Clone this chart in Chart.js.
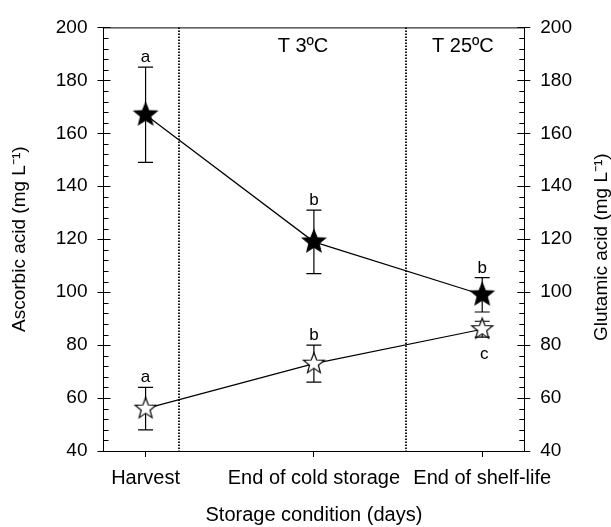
<!DOCTYPE html>
<html>
<head>
<meta charset="utf-8">
<script src="https://cdn.jsdelivr.net/npm/chart.js@4"></script>
<style>
  html, body { margin: 0; padding: 0; background: #fff; }
  #wrap { width: 611px; height: 527px; }
</style>
</head>
<body>
<div id="wrap"><canvas id="myChart"></canvas></div>
<script>
// values
const categories = ['Harvest', 'End of cold storage', 'End of shelf-life'];
const ascorbic = [167, 119, 99];
const ascorbicErr = [18, 12, 6.5];
const ascorbicLetters = ['a', 'b', 'b'];
const glutamic = [56, 73, 86];
const glutamicErr = [8, 7, 3];
const glutamicLetters = ['a', 'b', 'c'];
const dividers = [0.2, 1.55];
const periods = ['T 3ºC', 'T 25ºC'];
const periodX = [0.935, 1.885];
const yTicks = [40, 60, 80, 100, 120, 140, 160, 180, 200];

const FONT = 'Liberation Sans, Arial, sans-serif';

function makeStar(R, ratio, fill) {
    const c = document.createElement('canvas');
    const s = 2 * Math.ceil(R) + 4;
    c.width = s; c.height = s;
    const g = c.getContext('2d');
    g.translate(s / 2, s / 2);
    g.beginPath();
    for (let i = 0; i < 10; i++) {
        const rad = i % 2 === 0 ? R : R * ratio;
        const a = -Math.PI / 2 + i * Math.PI / 5;
        g.lineTo(rad * Math.cos(a), rad * Math.sin(a));
    }
    g.closePath();
    g.fillStyle = fill;
    g.fill();
    g.lineWidth = 1.2;
    g.strokeStyle = '#000';
    g.stroke();
    return c;
}

const filledStar = makeStar(12, 0.44, '#000');
const openStar = makeStar(11, 0.42, '#fff');

// error bars under the stars
const errorBars = {
    id: 'errorBars',
    beforeDatasetsDraw(chart) {
        const ctx = chart.ctx;
        const x = chart.scales.x, y = chart.scales.y;
        ctx.save();
        ctx.strokeStyle = '#000';
        ctx.lineWidth = 1.2;
        [[ascorbic, ascorbicErr], [glutamic, glutamicErr]].forEach(([vals, errs]) => {
            vals.forEach((v, i) => {
                const px = x.getPixelForValue(i);
                const top = y.getPixelForValue(v + errs[i]);
                const bot = y.getPixelForValue(v - errs[i]);
                ctx.beginPath();
                ctx.moveTo(px, top); ctx.lineTo(px, bot);
                ctx.moveTo(px - 7.5, top); ctx.lineTo(px + 7.5, top);
                ctx.moveTo(px - 7.5, bot); ctx.lineTo(px + 7.5, bot);
                ctx.stroke();
            });
        });
        ctx.restore();
    }
};

// frame, inward ticks, dotted dividers, texts
const decorations = {
    id: 'decorations',
    afterDraw(chart) {
        const ctx = chart.ctx;
        const a = chart.chartArea;
        const x = chart.scales.x, y = chart.scales.y;
        ctx.save();
        ctx.strokeStyle = '#000';
        ctx.lineWidth = 1;
        ctx.beginPath();
        ctx.moveTo(a.left, a.top + 0.5); ctx.lineTo(a.right, a.top + 0.5);
        for (let v = 40; v <= 200; v += 4) {
            const py = Math.round(y.getPixelForValue(v)) + 0.5;
            if (v % 20 === 0) {
                ctx.moveTo(a.left - 6, py); ctx.lineTo(a.left + 7, py);
                ctx.moveTo(a.right - 7, py); ctx.lineTo(a.right + 6, py);
            } else {
                ctx.moveTo(a.left, py); ctx.lineTo(a.left + 5, py);
                ctx.moveTo(a.right - 5, py); ctx.lineTo(a.right, py);
            }
        }
        ctx.stroke();

        ctx.setLineDash([1.5, 1.5]);
        ctx.lineWidth = 1.8;
        dividers.forEach(d => {
            const px = Math.round(x.getPixelForValue(d));
            ctx.beginPath();
            ctx.moveTo(px, a.top); ctx.lineTo(px, a.bottom);
            ctx.stroke();
        });
        ctx.setLineDash([]);

        ctx.fillStyle = '#000';
        ctx.textAlign = 'center';
        ctx.textBaseline = 'alphabetic';
        ctx.font = '20px ' + FONT;
        periods.forEach((t, i) => {
            ctx.fillText(t, x.getPixelForValue(periodX[i]), y.getPixelForValue(190.6));
        });

        ctx.font = '17px ' + FONT;
        ascorbicLetters.forEach((t, i) => {
            ctx.fillText(t, x.getPixelForValue(i), y.getPixelForValue(ascorbic[i] + ascorbicErr[i]) - 5);
        });
        glutamicLetters.forEach((t, i) => {
            if (i === 2) {
                ctx.textBaseline = 'top';
                ctx.fillText(t, x.getPixelForValue(i) + 2, y.getPixelForValue(glutamic[i] - glutamicErr[i]) + 9);
                ctx.textBaseline = 'alphabetic';
            } else {
                ctx.fillText(t, x.getPixelForValue(i), y.getPixelForValue(glutamic[i] + glutamicErr[i]) - 5);
            }
        });

        // right axis title, reading upwards like the left one
        ctx.font = '19px ' + FONT;
        ctx.textBaseline = 'middle';
        ctx.translate(602, (a.top + a.bottom) / 2 + 8);
        ctx.rotate(-Math.PI / 2);
        ctx.fillText('Glutamic acid (mg L⁻¹)', 0, 0);
        ctx.restore();
    }
};

Chart.defaults.font.family = FONT;
Chart.defaults.color = '#000';

new Chart(document.getElementById('myChart'), {
    type: 'line',
    data: {
        datasets: [{
            label: 'Ascorbic acid',
            data: ascorbic.map((v, i) => ({ x: i, y: v })),
            yAxisID: 'y',
            borderColor: '#000',
            borderWidth: 1.2,
            pointStyle: filledStar,
            tension: 0
        }, {
            label: 'Glutamic acid',
            data: glutamic.map((v, i) => ({ x: i, y: v })),
            yAxisID: 'y2',
            borderColor: '#000',
            borderWidth: 1.2,
            pointStyle: openStar,
            tension: 0
        }]
    },
    options: {
        responsive: true,
        maintainAspectRatio: false,
        animation: false,
        layout: { padding: { left: 8, right: 23, top: 22, bottom: 0 } },
        plugins: {
            legend: { display: false },
            tooltip: { enabled: false }
        },
        scales: {
            x: {
                type: 'linear',
                min: -0.25,
                max: 2.25,
                afterBuildTicks: axis => { axis.ticks = categories.map((c, i) => ({ value: i })); },
                ticks: {
                    callback: v => categories[v],
                    font: { size: 20 },
                    padding: 9,
                    maxRotation: 0,
                    autoSkip: false
                },
                grid: { drawOnChartArea: false, color: '#000', tickLength: 6 },
                border: { color: '#000' },
                title: {
                    display: true,
                    text: 'Storage condition (days)',
                    font: { size: 20 },
                    padding: { top: 4, bottom: 0 }
                }
            },
            y: {
                position: 'left',
                min: 40,
                max: 200,
                afterBuildTicks: axis => { axis.ticks = yTicks.map(v => ({ value: v })); },
                ticks: { font: { size: 19 }, padding: 16 },
                grid: { display: false, drawTicks: false },
                border: { color: '#000' },
                title: {
                    display: true,
                    text: 'Ascorbic acid (mg L⁻¹)',
                    font: { size: 19 },
                    padding: { top: 0, bottom: 9 }
                }
            },
            y2: {
                position: 'right',
                min: 40,
                max: 200,
                afterBuildTicks: axis => { axis.ticks = yTicks.map(v => ({ value: v })); },
                ticks: { font: { size: 19 }, padding: 16 },
                grid: { display: false, drawTicks: false },
                border: { color: '#000' }
            }
        }
    },
    plugins: [errorBars, decorations]
});
</script>
</body>
</html>
